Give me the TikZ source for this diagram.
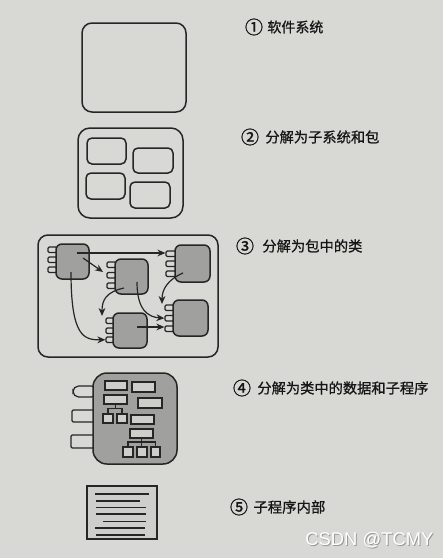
\documentclass[tikz,border=0pt]{standalone}
\usepackage{fontspec}
\setmainfont{Liberation Sans}
\newfontfamily\cjk[FakeBold=0.9]{Noto Sans CJK SC}
\newfontfamily\cjknum[FakeBold=1.4]{Noto Sans CJK SC}
\usetikzlibrary{fit,arrows.meta}
\definecolor{bg}{RGB}{216,216,213}
\definecolor{ink}{RGB}{38,38,38}
\definecolor{cls}{RGB}{160,160,158}
\definecolor{pale}{RGB}{206,206,203}
\definecolor{txt}{RGB}{22,22,22}
\begin{document}
\begin{tikzpicture}[x=0.5pt,y=-0.5pt,
  box/.style={draw=ink, line width=0.75pt, inner sep=0pt, rounded corners=#1},
  box/.default=5pt,
  clsbox/.style={box=3pt, fill=cls},
  tab/.style={draw=ink, line width=0.6pt, inner sep=0pt, rounded corners=0.6pt, fill=bg},
  small/.style={draw=ink, line width=0.55pt, inner sep=0pt, fill=pale},
  conn/.style={draw=ink, line width=0.55pt},
  arr/.style={draw=ink, line width=0.6pt, -{Stealth[length=4pt,width=3.4pt]}},
  lbl/.style={anchor=west, inner sep=0pt, text=txt, font=\cjk\fontsize{7pt}{8pt}\selectfont},
  num/.style={anchor=center, inner sep=0pt, text=txt, font=\cjknum\fontsize{9pt}{10pt}\selectfont},
]
\fill[bg] (0,0) rectangle (443,558);
\useasboundingbox (0,0) rectangle (443,558);

% ---------- 1 software system
\node[box=5pt, fit={(82,23) (186,112)}] (sys) {};

% ---------- 2 subsystems and packages
\node[box=6pt, fit={(78,128) (183,218)}] (pk) {};
\node[box=2.5pt, fit={(87,138) (126,164)}] (p1) {};
\node[box=2.5pt, fit={(133,148) (173,173)}] (p2) {};
\node[box=2.5pt, fit={(86,173) (125,199)}] (p3) {};
\node[box=2.5pt, fit={(130,182) (170,208)}] (p4) {};

% ---------- 3 classes in packages
\node[box=5pt, fit={(38,235) (218,357)}] (cl) {};
% tabs
\node[tab, fit={(48,247) (57,252.5)}] (At1) {};
\node[tab, fit={(48,257) (57,262.5)}] (At2) {};
\node[tab, fit={(48,267) (57,272.5)}] (At3) {};
\node[tab, fit={(107,262) (116,267.5)}] (Bt1) {};
\node[tab, fit={(107,272.5) (116,278)}] (Bt2) {};
\node[tab, fit={(107,283) (116,288.5)}] (Bt3) {};
\node[tab, fit={(166,251) (176,256.5)}] (Ct1) {};
\node[tab, fit={(166,261) (176,266.5)}] (Ct2) {};
\node[tab, fit={(166,271) (176,276.5)}] (Ct3) {};
\node[tab, fit={(165,305) (174,310.5)}] (Dt1) {};
\node[tab, fit={(165,315.5) (174,321)}] (Dt2) {};
\node[tab, fit={(165,326) (174,331.5)}] (Dt3) {};
\node[tab, fit={(106,318) (114,323.5)}] (Et1) {};
\node[tab, fit={(106,328) (114,333.5)}] (Et2) {};
\node[tab, fit={(106,337) (114,342.5)}] (Et3) {};
% classes
\node[clsbox, fit={(56,244) (89,279)}] (A) {};
\node[clsbox, fit={(115,259) (148,294)}] (B) {};
\node[clsbox, fit={(175,245) (210,282)}] (C) {};
\node[clsbox, fit={(173,300) (208,336)}] (D) {};
\node[clsbox, fit={(113,313) (147,348)}] (E) {};
% start points of the connectors
\coordinate (a1) at (77,253);
\coordinate (a2) at (83,258);
\coordinate (a3) at (71,272);
\coordinate (b1) at (124,288);
\coordinate (b2) at (137,282);
\coordinate (c1) at (183,273);
\coordinate (e1) at (137,327);
\coordinate (bIn) at (103,272);
\coordinate (eTop) at (102,316);
\coordinate (dTop) at (162,304);
% connectors
\draw[arr] (a1) -- (a1 -| Ct1.west);
\draw[arr] (a2) -- (bIn);
\draw[arr] (a3) .. controls (71,337) and (84,340) .. (Et3.west);
\draw[arr] (b1) .. controls (106,292) and (102,300) .. (eTop);
\draw[arr] (b2) .. controls (137,310) and (148,317) .. (Dt2.west);
\draw[arr] (c1) .. controls (167,280) and (162,290) .. (dTop);
\draw[arr] (e1) -- (e1 -| Dt3.west);

% ---------- 4 data and routines in classes
\node[tab, rounded corners=2.8pt, fit={(73,386) (97,397)}] (T1) {};
\node[tab, fit={(72,410) (97,422)}] (T2) {};
\node[tab, fit={(71,435) (97,448)}] (T3) {};
\node[box=7pt, fill=cls, fit={(93,373) (177,464)}] (cls) {};
\node[small, fit={(105,381) (127,390)}] (r1) {};
\node[small, fit={(132,382) (155,392)}] (r2) {};
\node[small, fit={(104,395) (127,404)}] (r3) {};
\node[small, fit={(138,398) (162,408)}] (r4) {};
\node[small, fit={(103,414) (113,423)}] (s1) {};
\node[small, fit={(117,414) (127,423)}] (s2) {};
\node[small, fit={(131,415) (154,424)}] (r5) {};
\node[small, fit={(130,429) (153,438)}] (r6) {};
\node[small, fit={(123,447) (133,457)}] (t1) {};
\node[small, fit={(137,447) (147,457)}] (t2) {};
\node[small, fit={(151,447) (160,457)}] (t3) {};
\coordinate (j1) at (r3.south |- 0,408.5);
\coordinate (j2) at (r6.south |- 0,442);
\draw[conn] (r3.south) -- (j1);
\draw[conn] (s1.north) |- (j1) -| (s2.north);
\draw[conn] (r6.south) -- (r6.south |- t2.north);
\draw[conn] (t1.north) |- (j2) -| (t3.north);

% ---------- 5 routine internals
\node[draw=ink, line width=0.65pt, inner sep=0pt, fill=pale, fit={(87,486) (157,539)}] (rt) {};
\draw[ink, line width=1.2pt] (95,494) -- (149,494);
\draw[ink, line width=0.6pt] (96,501) -- (140,501);
\draw[ink, line width=0.6pt] (96,507.5) -- (146,507.5);
\draw[ink, line width=0.6pt] (96,514) -- (146,514);
\draw[ink, line width=0.6pt] (103,521.5) -- (146,521.5);
\draw[ink, line width=0.6pt] (95,528) -- (145,528);
\draw[ink, line width=0.6pt] (96,535) -- (145,535);

% ---------- labels
\node[num] (n1) at (254,27) {①};
\node[lbl] (l1) at (267,27) {\resizebox{28pt}{!}{软件系统}};
\node[num] (n2) at (250,137) {②};
\node[lbl] (l2) at (265,137) {\resizebox{57pt}{!}{分解为子系统和包}};
\node[num] (n3) at (245,246) {③};
\node[lbl] (l3) at (262,246) {\resizebox{50pt}{!}{分解为包中的类}};
\node[num] (n4) at (242,388) {④};
\node[lbl] (l4) at (257,388) {\resizebox{85.5pt}{!}{分解为类中的数据和子程序}};
\node[num] (n5) at (239,507) {⑤};
\node[lbl] (l5) at (253,507) {\resizebox{36pt}{!}{子程序内部}};

% ---------- watermark
\node[anchor=west, inner sep=0pt, font=\fontsize{9.2pt}{10pt}\selectfont, text=gray!80] (wm0) at (306,541) {CSDN @TCMY};
\node[anchor=west, inner sep=0pt, font=\fontsize{9.2pt}{10pt}\selectfont, text=white] (wm) at (305,540) {CSDN @TCMY};
\end{tikzpicture}
\end{document}
